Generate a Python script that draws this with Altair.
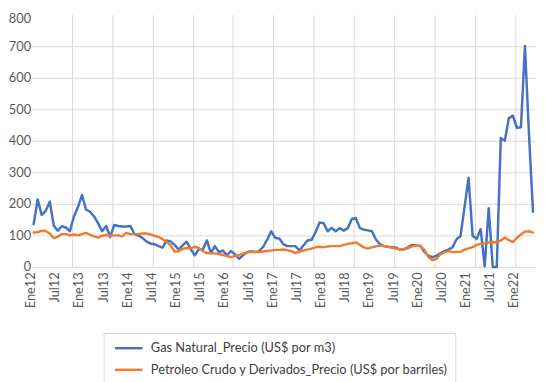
import altair as alt
import pandas as pd

# ---- data (monthly, Ene 2012 .. May 2022) ----
gas = [136, 214, 165, 178, 207, 131, 115, 129, 125, 113, 160, 190,
       228, 182, 175, 160, 139, 113, 130, 95, 133, 130, 128, 128,
       130, 105, 99, 92, 81, 74, 72, 66, 61, 84, 81, 70,
       55, 68, 80, 56, 37, 55, 55, 84, 44, 66, 47, 52,
       37, 50, 40, 26, 37, 47, 50, 47, 50, 64, 87, 113,
       92, 90, 72, 66, 66, 66, 52, 68, 84, 86, 110, 141,
       139, 113, 124, 113, 123, 115, 123, 152, 155, 123, 118, 116,
       113, 87, 72, 66, 64, 63, 61, 55, 56, 63, 70, 68,
       67, 48, 36, 31, 35, 43, 50, 55, 62, 88, 98, 190,
       282, 99, 89, 120, 2, 186, 0, 0, 409, 400, 472, 480,
       441, 443, 701, 420, 175]

oil = [109, 110, 115, 114, 106, 91, 96, 104, 104, 100, 103, 100,
       104, 108, 102, 97, 93, 99, 101, 100, 100, 100, 97, 108,
       104, 104, 104, 106, 106, 103, 99, 95, 88, 80, 69, 49,
       50, 57, 60, 59, 64, 60, 50, 44, 43, 43, 41, 38,
       34, 31, 35, 38, 42, 46, 48, 47, 47, 49, 51, 52,
       54, 54, 55, 53, 50, 44, 48, 52, 55, 58, 62, 64,
       62, 65, 66, 66, 66, 70, 73, 75, 78, 70, 62, 58,
       62, 65, 68, 66, 64, 61, 58, 55, 56, 60, 65, 68,
       66, 55, 32, 22, 25, 40, 46, 50, 47, 47, 48, 55,
       59, 63, 70, 73, 75, 77, 79, 78, 84, 93, 85, 79,
       92, 103, 112, 113, 109]

series_names = ["Gas Natural_Precio (US$ por m3)",
                "Petroleo Crudo y Derivados_Precio (US$ por barriles)"]
series_colors = ["#4472C4", "#ED7D31"]

month_abbr = ["Ene", "Feb", "Mar", "Abr", "May", "Jun",
              "Jul", "Ago", "Sep", "Oct", "Nov", "Dic"]
years = ["12", "13", "14", "15", "16", "17", "18", "19", "20", "21", "22"]
tick_labels = ["Ene12", "Jul12", "Ene13", "Jul13", "Ene14", "Jul14", "Ene15",
               "Jul15", "Ene16", "Jul16", "Ene17", "Jul17", "Ene18", "Jul18",
               "Ene19", "Jul19", "Ene20", "Jul20", "Ene21", "Jul21", "Ene22"]
y_ticks = [0, 100, 200, 300, 400, 500, 600, 700, 800]

n = len(gas)
mes = [m + y for y in years for m in month_abbr][:n]

df = pd.DataFrame({
    "i": list(range(n)) * 2,
    "mes": mes * 2,
    "valor": gas + oil,
    "serie": [series_names[0]] * n + [series_names[1]] * n,
})

label_pos = [6 * k for k in range(len(tick_labels))]
grid_pos = [10 * k + 9.5 for k in range(12)]
labels_js = "[" + ",".join("'" + t + "'" for t in tick_labels) + "]"
label_expr = f"datum.value % 6 == 0 ? {labels_js}[datum.value / 6] : ''"

FONT = "Lato"

x_axis = alt.Axis(
    values=label_pos + grid_pos,
    labelExpr=label_expr,
    labelAngle=-90,
    labelAlign="right",
    labelBaseline="bottom",
    labelOffset=4,
    labelPadding=5,
    labelFont=FONT,
    labelFontSize=13,
    labelColor="#595959",
    labelOverlap=False,
    labelFlush=False,
    ticks=False,
    tickSize=0,
    domain=False,
    grid=True,
    gridColor="#d9d9d9",
    gridWidth=1,
    gridOpacity={"condition": {"test": "datum.value % 10 == 9.5", "value": 1}, "value": 0},
    title=None,
)

y_axis = alt.Axis(
    values=y_ticks,
    labelFont=FONT,
    labelFontSize=13,
    labelColor="#595959",
    labelPadding=1,
    labelOffset={"condition": {"test": "datum.value >= 800", "value": 4}, "value": 0},
    ticks=False,
    tickSize=0,
    domain=False,
    grid=True,
    gridColor="#d9d9d9",
    gridWidth=1,
    gridOpacity={"condition": {"test": "datum.value >= 800", "value": 0}, "value": 1},
    title=None,
)

legend = alt.Legend(
    orient="none",
    legendX=73,
    legendY=323,
    direction="vertical",
    title=None,
    symbolType="M-0.571,0H3.429",
    symbolSize=196,
    symbolStrokeWidth=2.5,
    labelOffset=24,
    labelFont=FONT,
    labelFontSize=13,
    labelColor="#404040",
    labelLimit=500,
    rowPadding=6,
    padding=7,
    strokeColor="#d9d9d9",
)

chart = alt.Chart(df).mark_line(
    strokeWidth=2.5, strokeJoin="round", strokeCap="round"
).encode(
    x=alt.X("i:Q", scale=alt.Scale(domain=[-0.5, n - 0.5], nice=False, zero=False), axis=x_axis),
    y=alt.Y("valor:Q", scale=alt.Scale(domain=[0, 800], nice=False), axis=y_axis),
    color=alt.Color("serie:N", scale=alt.Scale(domain=series_names, range=series_colors),
                    sort=series_names, legend=legend),
    detail="serie:N",
    tooltip=["mes:N", "serie:N", "valor:Q"],
).properties(
    width=511,
    height=256,
    autosize=alt.AutoSizeParams(type="none"),
    padding={"left": 24, "top": 4, "right": 2, "bottom": 114},
    background="white",
).configure_view(stroke=None)

chart.save("out.html", embed_options={"renderer": "svg", "actions": False})
